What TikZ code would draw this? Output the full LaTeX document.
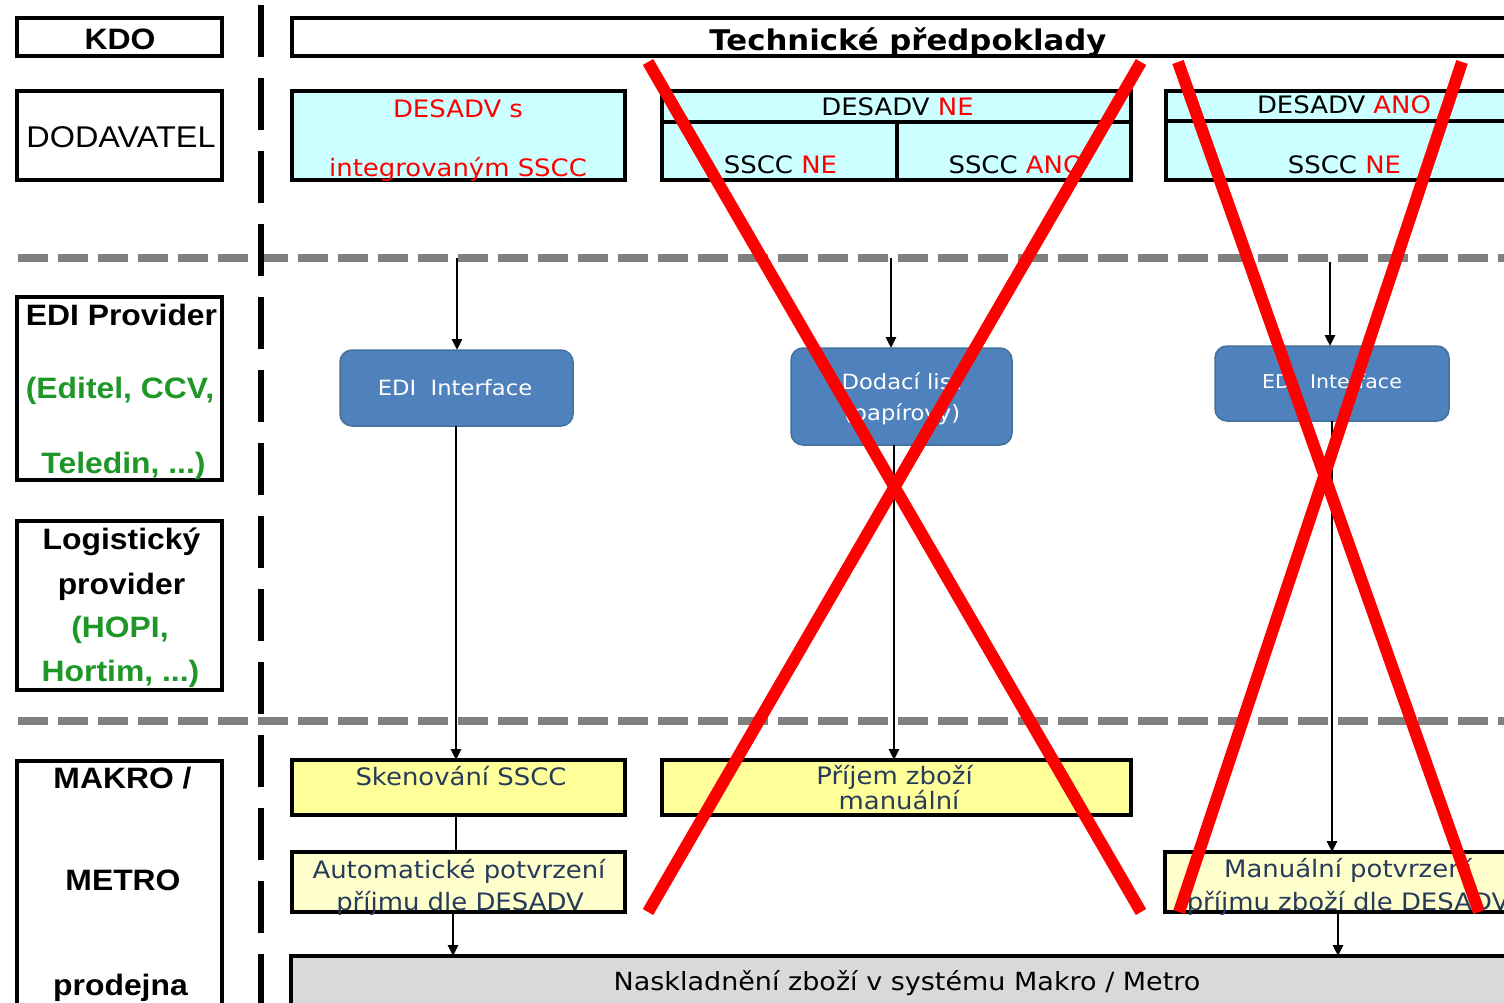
\documentclass[tikz,border=0pt]{standalone}
\usepackage{fontspec}
\usetikzlibrary{arrows.meta}
\newfontfamily\arl[FakeStretch=1.08]{Liberation Sans}
\newfontfamily\tah[FakeStretch=1.08]{DejaVu Sans}
\newcommand\fsz[1]{\fontsize{#1}{#1}\selectfont}
\definecolor{cyanbox}{HTML}{CCFFFF}
\definecolor{yel}{HTML}{FFFF99}
\definecolor{yellt}{HTML}{FFFFCC}
\definecolor{grbox}{HTML}{D9D9D9}
\definecolor{bluebox}{HTML}{4F81BD}
\definecolor{blueedge}{HTML}{41719C}
\definecolor{grn}{RGB}{30,150,40}
\definecolor{navy}{RGB}{38,58,90}
\definecolor{dashgray}{RGB}{128,128,128}
\tikzset{
  frame/.style={draw=black, line width=3.8pt, inner sep=0pt, outer sep=0pt},
  rbox/.style={draw=blueedge, fill=bluebox, line width=1.5pt, rounded corners=12pt, inner sep=0pt, outer sep=0pt},
  lbl/.style={inner sep=0pt, anchor=base, font=\arl\bfseries\fsz{29.5}},
  lblg/.style={lbl, text=grn},
  dtxt/.style={inner sep=0pt, anchor=base, font=\tah\fsz{24}},
  rtxt/.style={dtxt, text=red},
  ytxt/.style={dtxt, text=navy},
  wtxt/.style={inner sep=0pt, anchor=base, font=\tah\fsz{21}, text=white},
  arr/.style={-{Triangle[length=11pt,width=10pt]}, line width=2.8pt},
  plain/.style={line width=2.8pt},
  gdash/.style={draw=dashgray, line width=8pt, dash pattern=on 30pt off 10pt},
  vdash/.style={draw=black, line width=6pt, dash pattern=on 52pt off 21pt},
  redx/.style={draw=red, line width=12pt}
}
\begin{document}
\begin{tikzpicture}[x=1pt,y=-1pt]
\useasboundingbox (0,0) rectangle (1504,1002);
\clip (0,0) rectangle (1504,1002);
\fill[white] (0,0) rectangle (1504,1002);

% separators
\coordinate (h1a) at (18,258);
\coordinate (h1b) at (1520,258);
\coordinate (h2a) at (18,721);
\coordinate (h2b) at (1520,721);
\draw[gdash] (h1a) -- (h1b);
\draw[gdash] (h2a) -- (h2b);
\coordinate (va) at (261,5);
\coordinate (vb) at (261,1010);
\draw[vdash] (va) -- (vb);

% left column
\node[frame, minimum width=205pt, minimum height=38pt] (kdo) at (119.5,37) {};
\node[frame, minimum width=205pt, minimum height=89pt] (dodav) at (119.5,135.5) {};
\node[frame, minimum width=205pt, minimum height=183pt] (edip) at (119.5,388.5) {};
\node[frame, minimum width=205pt, minimum height=169pt] (logp) at (119.5,605.5) {};
\node[frame, minimum width=205pt, minimum height=260pt] (makro) at (119.5,891) {};

\node[lbl] (tkdo) at (120,49) {KDO};
\node[lbl, font=\arl\fsz{30}] (tdod) at (121,147) {DODAVATEL};
\node[lbl] (tedi1) at (121.5,325) {EDI Provider};
\node[lblg] (tedi2) at (120,398) {(Editel, CCV,};
\node[lblg] (tedi3) at (123.5,473) {Teledin, ...)};
\node[lbl] (tlog1) at (121.5,549) {Logistický};
\node[lbl] (tlog2) at (121.5,594) {provider};
\node[lblg] (tlog3) at (120,637) {(HOPI,};
\node[lblg] (tlog4) at (120.5,681) {Hortim, ...)};
\node[lbl] (tmak1) at (122.5,788) {MAKRO /};
\node[lbl] (tmak2) at (123,890) {METRO};
\node[lbl] (tmak3) at (120.5,995) {prodejna};

% top row
\node[frame, minimum width=1234pt, minimum height=38pt] (tech) at (909,37) {};
\node[dtxt, font=\tah\bfseries\fsz{28.5}] (ttech) at (908,50) {Technické předpoklady};

\node[frame, fill=cyanbox, minimum width=333pt, minimum height=89pt] (des1) at (458.5,135.5) {};
\node[rtxt] (tds1) at (458,117) {DESADV s};
\node[rtxt] (tds2) at (458,176) {integrovaným SSCC};

\node[frame, fill=cyanbox, minimum width=469pt, minimum height=89pt] (des2) at (896.5,135.5) {};
\coordinate (d2l) at (662,122);
\coordinate (d2r) at (1131,122);
\coordinate (d2t) at (897,122);
\draw[line width=3.8pt] (d2l) -- (d2r);
\draw[line width=3.8pt] (d2t) -- (d2t |- des2.south);
\node[dtxt] (tne1) at (897.5,115) {DESADV \textcolor{red}{NE}};
\node[dtxt] (tne2) at (780.5,173) {SSCC \textcolor{red}{NE}};
\node[dtxt] (tne3) at (1016,173) {SSCC \textcolor{red}{ANO}};

\node[frame, fill=cyanbox, minimum width=365pt, minimum height=89pt] (des3) at (1348.5,135.5) {};
\coordinate (d3l) at (1166,121);
\coordinate (d3r) at (1531,121);
\draw[line width=3.8pt] (d3l) -- (d3r);
\node[dtxt] (tano1) at (1344,113) {DESADV \textcolor{red}{ANO}};
\node[dtxt] (tano2) at (1344.5,173) {SSCC \textcolor{red}{NE}};

% blue boxes
\node[rbox, minimum width=233pt, minimum height=76pt] (edi1) at (456.5,388) {};
\node[wtxt] (tedi) at (455,395) {EDI~~Interface};
\node[rbox, minimum width=221pt, minimum height=97pt] (dodl) at (901.5,396.5) {};
\node[wtxt] (tdl1) at (901,389) {Dodací list};
\node[wtxt] (tdl2) at (902,420) {(papírový)};
\node[rbox, minimum width=234pt, minimum height=75pt] (edi2) at (1332,383.5) {};
\node[wtxt, font=\tah\fsz{19}] (tedi2b) at (1332,388) {EDI~~Interface};

% yellow boxes
\node[frame, fill=yel, minimum width=333pt, minimum height=55pt] (sken) at (458.5,787.5) {};
\node[ytxt] (tsk) at (461,785) {Skenování SSCC};
\node[frame, fill=yel, minimum width=469pt, minimum height=55pt] (prijem) at (896.5,787.5) {};
\node[ytxt] (tpr1) at (894.5,784) {Příjem zboží};
\node[ytxt] (tpr2) at (899,809) {manuální};
\node[frame, fill=yellt, minimum width=333pt, minimum height=60pt] (auto) at (458.5,882) {};
\node[ytxt] (tau1) at (459,878) {Automatické potvrzení};
\node[ytxt] (tau2) at (460,910) {příjmu dle DESADV};
\node[frame, fill=yellt, minimum width=366pt, minimum height=60pt] (manual) at (1348,882) {};
\node[ytxt] (tma1) at (1348,877) {Manuální potvrzení};
\node[ytxt] (tma2) at (1348,910) {příjmu zboží dle DESADV};
\node[frame, fill=grbox, minimum width=1236pt, minimum height=84pt] (nask) at (909,998) {};
\node[dtxt, font=\tah\fsz{25}] (tna) at (907,990) {Naskladnění zboží v systému Makro / Metro};

% connectors
\coordinate (s1) at (457,258);
\coordinate (s2) at (891,258);
\coordinate (s3) at (1330,262);
\draw[arr] (s1) -- (s1 |- edi1.north);
\draw[arr] (s2) -- (s2 |- dodl.north);
\draw[arr] (s3) -- (s3 |- edi2.north);
\coordinate (c1) at (456,0);
\coordinate (c2) at (894,0);
\coordinate (c3) at (1332,0);
\coordinate (c4) at (453,0);
\coordinate (c5) at (1338,0);
\draw[arr] (c1 |- edi1.south) -- (c1 |- sken.north);
\draw[arr] (c2 |- dodl.south) -- (c2 |- prijem.north);
\draw[arr] (c3 |- edi2.south) -- (c3 |- manual.north);
\draw[plain] (c1 |- sken.south) -- (c1 |- auto.north);
\draw[arr] (c4 |- auto.south) -- (c4 |- nask.north);
\draw[arr] (c5 |- manual.south) -- (c5 |- nask.north);

% red crosses
\coordinate (xa1) at (648,62);
\coordinate (xa2) at (1141,912);
\coordinate (xa3) at (1141,62);
\coordinate (xa4) at (648,912);
\draw[redx] (xa1) -- (xa2);
\draw[redx] (xa3) -- (xa4);
\coordinate (xb1) at (1178,62);
\coordinate (xb2) at (1479,912);
\coordinate (xb3) at (1462,62);
\coordinate (xb4) at (1179,912);
\draw[redx] (xb1) -- (xb2);
\draw[redx] (xb3) -- (xb4);
\end{tikzpicture}
\end{document}
